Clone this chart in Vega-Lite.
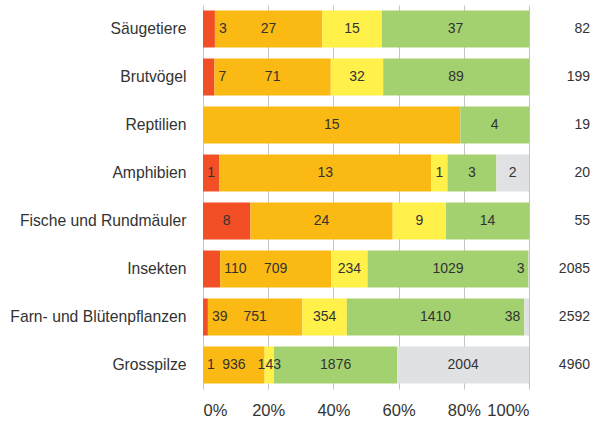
{
  "$schema": "https://vega.github.io/schema/vega-lite/v6.json",
  "width": 326,
  "height": 384,
  "autosize": {"type": "none"},
  "padding": {"left": 203, "top": 5, "right": 73, "bottom": 32},
  "background": "white",
  "config": {
    "font": "Liberation Sans",
    "view": {"stroke": null}
  },
  "data": {
    "values": [
      {"gruppe": "Säugetiere", "kat": "ausgestorben", "ord": 0, "n": 3},
      {"gruppe": "Säugetiere", "kat": "gefährdet", "ord": 1, "n": 27},
      {"gruppe": "Säugetiere", "kat": "potenziell gefährdet", "ord": 2, "n": 15},
      {"gruppe": "Säugetiere", "kat": "nicht gefährdet", "ord": 3, "n": 37},
      {"gruppe": "Brutvögel", "kat": "ausgestorben", "ord": 0, "n": 7},
      {"gruppe": "Brutvögel", "kat": "gefährdet", "ord": 1, "n": 71},
      {"gruppe": "Brutvögel", "kat": "potenziell gefährdet", "ord": 2, "n": 32},
      {"gruppe": "Brutvögel", "kat": "nicht gefährdet", "ord": 3, "n": 89},
      {"gruppe": "Reptilien", "kat": "gefährdet", "ord": 1, "n": 15},
      {"gruppe": "Reptilien", "kat": "nicht gefährdet", "ord": 3, "n": 4},
      {"gruppe": "Amphibien", "kat": "ausgestorben", "ord": 0, "n": 1},
      {"gruppe": "Amphibien", "kat": "gefährdet", "ord": 1, "n": 13},
      {"gruppe": "Amphibien", "kat": "potenziell gefährdet", "ord": 2, "n": 1},
      {"gruppe": "Amphibien", "kat": "nicht gefährdet", "ord": 3, "n": 3},
      {"gruppe": "Amphibien", "kat": "ungenügende Datengrundlage", "ord": 4, "n": 2},
      {"gruppe": "Fische und Rundmäuler", "kat": "ausgestorben", "ord": 0, "n": 8},
      {"gruppe": "Fische und Rundmäuler", "kat": "gefährdet", "ord": 1, "n": 24},
      {"gruppe": "Fische und Rundmäuler", "kat": "potenziell gefährdet", "ord": 2, "n": 9},
      {"gruppe": "Fische und Rundmäuler", "kat": "nicht gefährdet", "ord": 3, "n": 14},
      {"gruppe": "Insekten", "kat": "ausgestorben", "ord": 0, "n": 110},
      {"gruppe": "Insekten", "kat": "gefährdet", "ord": 1, "n": 709},
      {"gruppe": "Insekten", "kat": "potenziell gefährdet", "ord": 2, "n": 234},
      {"gruppe": "Insekten", "kat": "nicht gefährdet", "ord": 3, "n": 1029},
      {"gruppe": "Insekten", "kat": "ungenügende Datengrundlage", "ord": 4, "n": 3},
      {"gruppe": "Farn- und Blütenpflanzen", "kat": "ausgestorben", "ord": 0, "n": 39},
      {"gruppe": "Farn- und Blütenpflanzen", "kat": "gefährdet", "ord": 1, "n": 751},
      {"gruppe": "Farn- und Blütenpflanzen", "kat": "potenziell gefährdet", "ord": 2, "n": 354},
      {"gruppe": "Farn- und Blütenpflanzen", "kat": "nicht gefährdet", "ord": 3, "n": 1410},
      {"gruppe": "Farn- und Blütenpflanzen", "kat": "ungenügende Datengrundlage", "ord": 4, "n": 38},
      {"gruppe": "Grosspilze", "kat": "ausgestorben", "ord": 0, "n": 1},
      {"gruppe": "Grosspilze", "kat": "gefährdet", "ord": 1, "n": 936},
      {"gruppe": "Grosspilze", "kat": "potenziell gefährdet", "ord": 2, "n": 143},
      {"gruppe": "Grosspilze", "kat": "nicht gefährdet", "ord": 3, "n": 1876},
      {"gruppe": "Grosspilze", "kat": "ungenügende Datengrundlage", "ord": 4, "n": 2004}
    ]
  },
  "transform": [
    {"stack": "n", "groupby": ["gruppe"], "sort": [{"field": "ord", "order": "ascending"}], "offset": "normalize", "as": ["x0", "x1"]},
    {"joinaggregate": [{"op": "sum", "field": "n", "as": "total"}], "groupby": ["gruppe"]},
    {"calculate": "(datum.x0 + datum.x1) / 2", "as": "xm"},
    {"calculate": "(length(toString(datum.n)) * 8 + 5) > (datum.x1 - datum.x0) * 326", "as": "eng"},
    {"calculate": "datum.eng && datum.ord == 0 ? 'links' : (datum.eng && datum.ord == 4 ? 'rechts' : 'mitte')", "as": "lage"}
  ],
  "encoding": {
    "y": {
      "field": "gruppe",
      "type": "nominal",
      "sort": ["Säugetiere", "Brutvögel", "Reptilien", "Amphibien", "Fische und Rundmäuler", "Insekten", "Farn- und Blütenpflanzen", "Grosspilze"],
      "scale": {"paddingInner": 0.23, "paddingOuter": 0.115},
      "axis": {"title": null, "domain": false, "ticks": false, "labelFontSize": 15.7, "labelColor": "#333333", "labelPadding": 17, "labelLimit": 300}
    }
  },
  "layer": [
    {
      "mark": {"type": "bar"},
      "encoding": {
        "x": {
          "field": "x0",
          "type": "quantitative",
          "scale": {"domain": [0, 1], "nice": false},
          "axis": {
            "title": null,
            "format": ".0%",
            "values": [0, 0.1, 0.2, 0.3, 0.4, 0.5, 0.6, 0.7, 0.8, 0.9, 1],
            "labelExpr": "round(datum.value * 10) % 2 == 0 ? datum.label : ''",
            "domain": false,
            "ticks": false,
            "grid": true,
            "gridColor": "#c4c4c4",
            "gridWidth": 1,
            "labelFontSize": 16.5,
            "labelColor": "#333333",
            "labelPadding": 13
          }
        },
        "x2": {"field": "x1"},
        "color": {
          "field": "kat",
          "type": "nominal",
          "legend": null,
          "scale": {
            "domain": ["ausgestorben", "gefährdet", "potenziell gefährdet", "nicht gefährdet", "ungenügende Datengrundlage"],
            "range": ["#f24f26", "#fbb913", "#fff04a", "#a3d16f", "#e0e1e3"]
          }
        }
      }
    },
    {
      "transform": [{"filter": "datum.lage == 'mitte'"}],
      "mark": {"type": "text", "align": "center", "baseline": "middle", "fontSize": 14, "color": "#333333"},
      "encoding": {"x": {"field": "xm", "type": "quantitative"}, "text": {"field": "n", "type": "nominal"}}
    },
    {
      "transform": [{"filter": "datum.lage == 'links'"}],
      "mark": {"type": "text", "align": "left", "baseline": "middle", "fontSize": 14, "color": "#333333", "dx": 4},
      "encoding": {"x": {"field": "x1", "type": "quantitative"}, "text": {"field": "n", "type": "nominal"}}
    },
    {
      "transform": [{"filter": "datum.lage == 'rechts'"}],
      "mark": {"type": "text", "align": "right", "baseline": "middle", "fontSize": 14, "color": "#333333", "dx": -4},
      "encoding": {"x": {"field": "x0", "type": "quantitative"}, "text": {"field": "n", "type": "nominal"}}
    },
    {
      "transform": [{"filter": "datum.ord == 1"}],
      "mark": {"type": "text", "align": "right", "baseline": "middle", "fontSize": 14, "color": "#333333", "dx": 61},
      "encoding": {"x": {"datum": 1}, "text": {"field": "total", "type": "nominal"}}
    }
  ]
}
